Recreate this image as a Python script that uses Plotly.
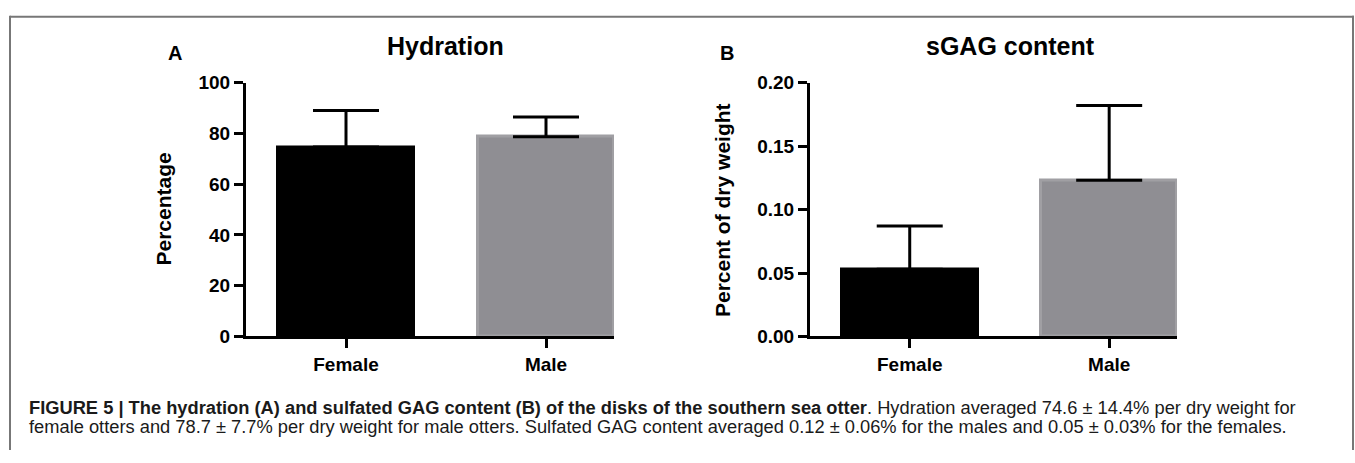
import plotly.graph_objects as go

W, H = 1355, 463

categories = ["Female", "Male"]
hydration_mean = [74.6, 78.7]
hydration_sd = [14.4, 7.7]
sgag_mean = [0.053, 0.123]
sgag_sd = [0.034, 0.059]
hydration_ticks = [0, 20, 40, 60, 80, 100]
sgag_ticks = [0.00, 0.05, 0.10, 0.15, 0.20]
bar_colors = ["#000000", "#8f8e93"]
bar_line_colors = ["#000000", "#a09fa3"]

caption_bold = "FIGURE 5 | The hydration (A) and sulfated GAG content (B) of the disks of the southern sea otter"
caption_l1 = ". Hydration averaged 74.6 ± 14.4% per dry weight for"
caption_l2 = "female otters and 78.7 ± 7.7% per dry weight for male otters. Sulfated GAG content averaged 0.12 ± 0.06% for the males and 0.05 ± 0.03% for the females."


def px(x):
    return x / W


def py(y):
    return 1 - y / H


xpos = list(range(len(categories)))

fig = go.Figure()
fig.add_trace(go.Bar(
    x=xpos, y=hydration_mean, width=0.68,
    marker=dict(color=bar_colors, line=dict(color=bar_line_colors, width=3)),
    error_y=dict(type="data", array=hydration_sd, arrayminus=[0, 0], symmetric=False,
                 color="#000000", thickness=3, width=33),
    xaxis="x", yaxis="y", showlegend=False, hoverinfo="skip",
))
fig.add_trace(go.Bar(
    x=xpos, y=sgag_mean, width=0.68,
    marker=dict(color=bar_colors, line=dict(color=bar_line_colors, width=3)),
    error_y=dict(type="data", array=sgag_sd, arrayminus=[0, 0], symmetric=False,
                 color="#000000", thickness=3, width=33),
    xaxis="x2", yaxis="y2", showlegend=False, hoverinfo="skip",
))

tickfont = dict(family="Liberation Sans, Arial, sans-serif", size=19, color="#000000", weight="bold")
xcommon = dict(range=[-0.5, 1.34], tickvals=xpos, ticktext=categories, showline=True,
               linecolor="#000000", linewidth=3, ticks="outside", ticklen=9, tickwidth=3,
               tickcolor="#000000", tickfont=tickfont, showgrid=False, zeroline=False,
               fixedrange=True)
ycommon = dict(showline=True, linecolor="#000000", linewidth=3, ticks="outside", ticklen=9,
               tickwidth=3, tickcolor="#000000", tickfont=tickfont, showgrid=False,
               zeroline=False, fixedrange=True)

py_top, py_bot = 76, 342
fig.update_layout(
    width=W, height=H,
    margin=dict(l=0, r=0, t=0, b=0),
    paper_bgcolor="#ffffff", plot_bgcolor="#ffffff",
    xaxis=dict(domain=[px(246), px(614)], anchor="y", **xcommon),
    yaxis=dict(domain=[py(py_bot), py(py_top)], anchor="x", range=[0, 100],
               tickvals=hydration_ticks, ticktext=[str(v) for v in hydration_ticks], **ycommon),
    xaxis2=dict(domain=[px(810), px(1177)], anchor="y2", **xcommon),
    yaxis2=dict(domain=[py(py_bot), py(py_top)], anchor="x2", range=[0, 0.2],
                tickvals=sgag_ticks, ticktext=[f"{v:.2f}" for v in sgag_ticks], **ycommon),
    bargap=0,
)

bold_font = lambda s: dict(family="Liberation Sans, Arial, sans-serif", size=s, color="#000000", weight="bold")
ann = []
ann.append(dict(text="Hydration", x=px(445), y=py(38), font=bold_font(25)))
ann.append(dict(text="sGAG content", x=px(1010), y=py(38), font=bold_font(25)))
ann.append(dict(text="A", x=px(175), y=py(45), font=bold_font(20)))
ann.append(dict(text="B", x=px(727), y=py(45), font=bold_font(20)))
ann.append(dict(text="Percentage", x=px(164), y=py(209), font=bold_font(21), textangle=-90))
ann.append(dict(text="Percent of dry weight", x=px(723), y=py(209.5), font=bold_font(21), textangle=-90))
cap_font = dict(family="Liberation Sans, Arial, sans-serif", size=18.3, color="#1a1a1a")
ann.append(dict(text=f"<b>{caption_bold}</b>{caption_l1}", x=px(27), y=py(416),
                xanchor="left", font=cap_font))
ann.append(dict(text=caption_l2, x=px(27), y=py(436), xanchor="left", font=cap_font))
for a in ann:
    a.setdefault("xanchor", "center")
    a.setdefault("yanchor", "middle")
    a.update(xref="paper", yref="paper", showarrow=False)
fig.update_layout(annotations=ann)

frame = dict(color="#777777", width=2)
fig.update_layout(shapes=[
    dict(type="line", xref="paper", yref="paper", x0=px(10), x1=px(1354), y0=py(7), y1=py(7), line=frame),
    dict(type="line", xref="paper", yref="paper", x0=px(10), x1=px(10), y0=py(6), y1=py(461), line=frame),
    dict(type="line", xref="paper", yref="paper", x0=px(1353), x1=px(1353), y0=py(6), y1=py(461), line=frame),
])

fig.write_html(
    "out.html",
    config={"displayModeBar": False},
    post_script="document.body.style.margin='0';document.body.style.overflow='hidden';",
)
